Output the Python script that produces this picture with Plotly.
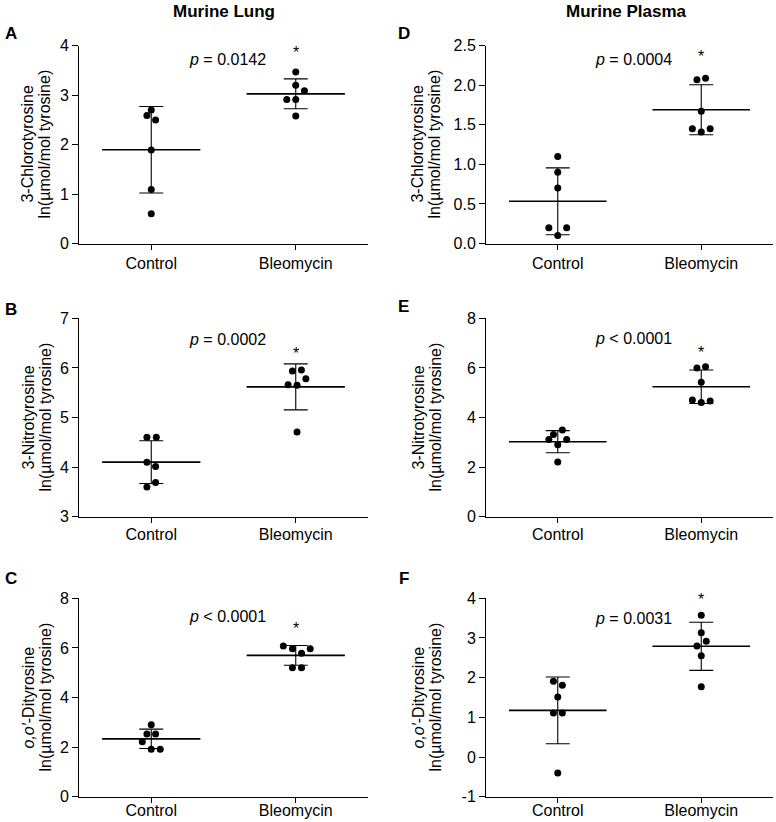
import numpy as np
import plotly.graph_objects as go

# ---------------- data ----------------
groups = ["Control", "Bleomycin"]
panel_letters = ["A", "D", "B", "E", "C", "F"]
column_titles = ["Murine Lung", "Murine Plasma"]

# values per panel: [control values], [bleomycin values]
A_control = [2.70, 2.59, 2.50, 1.89, 1.09, 0.60]
A_bleo = [3.47, 3.20, 3.09, 2.91, 2.91, 2.58]
D_control = [1.10, 0.90, 0.70, 0.20, 0.20, 0.10]
D_bleo = [2.07, 2.09, 1.67, 1.45, 1.45, 1.41]
B_control = [4.60, 4.60, 4.10, 4.01, 3.69, 3.60]
B_bleo = [5.94, 5.96, 5.78, 5.66, 5.65, 4.71]
E_control = [3.50, 3.31, 3.11, 3.11, 2.90, 2.21]
E_bleo = [6.00, 6.05, 5.42, 4.71, 4.60, 4.67]
C_control = [2.90, 2.53, 2.53, 2.22, 1.91, 1.91]
C_bleo = [6.08, 5.97, 5.97, 5.78, 5.20, 5.20]
F_control = [1.91, 1.81, 1.51, 1.11, 1.11, -0.40]
F_bleo = [3.57, 3.13, 2.92, 2.80, 2.55, 1.77]

# horizontal scatter spread of dots (category units)
A_jit_c = [0, -0.03, 0.03, 0, 0, 0]
A_jit_b = [0, 0, 0.06, -0.062, 0, 0]
D_jit_c = [0, 0, 0, -0.062, 0.062, 0]
D_jit_b = [-0.03, 0.03, 0, -0.062, 0.062, 0]
B_jit_c = [-0.03, 0.035, -0.03, 0.03, 0.03, -0.03]
B_jit_b = [-0.023, 0.039, 0.07, -0.053, 0.009, 0.009]
E_jit_c = [0.032, -0.03, -0.062, 0.062, 0, 0]
E_jit_b = [-0.03, 0.03, 0, -0.062, 0, 0.062]
C_jit_c = [0, -0.03, 0.03, -0.062, 0, 0.062]
C_jit_b = [-0.086, -0.023, 0.1, 0.04, -0.023, 0.04]
F_jit_c = [-0.03, 0.032, 0, -0.03, 0.032, 0]
F_jit_b = [0, 0, 0.035, -0.03, 0, 0]

p_texts = ["<i>p</i> = 0.0142", "<i>p</i> = 0.0004", "<i>p</i> = 0.0002",
           "<i>p</i> < 0.0001", "<i>p</i> < 0.0001", "<i>p</i> = 0.0031"]

y_names = ["3-Chlorotyrosine", "3-Chlorotyrosine", "3-Nitrotyrosine",
           "3-Nitrotyrosine", "<i>o,o′</i>-Dityrosine", "<i>o,o′</i>-Dityrosine"]
y_unit = "ln(µmol/mol tyrosine)"

y_ranges = [[0, 4], [0, 2.5], [3, 7], [0, 8], [0, 8], [-1, 4]]
y_tickvals = [[0, 1, 2, 3, 4],
              [0, 0.5, 1.0, 1.5, 2.0, 2.5],
              [3, 4, 5, 6, 7],
              [0, 2, 4, 6, 8],
              [0, 2, 4, 6, 8],
              [-1, 0, 1, 2, 3, 4]]
y_ticktext = [["0", "1", "2", "3", "4"],
              ["0.0", "0.5", "1.0", "1.5", "2.0", "2.5"],
              ["3", "4", "5", "6", "7"],
              ["0", "2", "4", "6", "8"],
              ["0", "2", "4", "6", "8"],
              ["-1", "0", "1", "2", "3", "4"]]

# y positions (data units) of p-value text and asterisk
p_y = [3.73, 2.33, 6.58, 7.17, 7.25, 3.50]
star_y = [3.86, 2.36, 6.30, 6.62, 6.80, 3.97]

panels = [
    (A_control, A_bleo, A_jit_c, A_jit_b),
    (D_control, D_bleo, D_jit_c, D_jit_b),
    (B_control, B_bleo, B_jit_c, B_jit_b),
    (E_control, E_bleo, E_jit_c, E_jit_b),
    (C_control, C_bleo, C_jit_c, C_jit_b),
    (F_control, F_bleo, F_jit_c, F_jit_b),
]

# ---------------- layout geometry ----------------
W, H = 776, 822
x_doms = [[79 / W, 368 / W], [486 / W, 773 / W]]
row_px = [(45.7, 243.5), (318.3, 516.7), (598.3, 796.7)]
y_doms = [[1 - b / H, 1 - t / H] for t, b in row_px]
x_label_shift = [0, -2, -6]   # per row: move category labels closer to axis

FONT = "Liberation Sans, Arial, sans-serif"
BLACK = "#000000"
FS = 16

fig = go.Figure()
layout = dict(
    width=W, height=H,
    margin=dict(l=0, r=0, t=0, b=0, autoexpand=False),
    paper_bgcolor="white", plot_bgcolor="white",
    showlegend=False,
    font=dict(family=FONT, size=FS, color=BLACK),
)
annotations = []

mean_half = 0.34
cap_px = 12

for i, (ctrl, bleo, jc, jb) in enumerate(panels):
    row, col = divmod(i, 2)
    n = i + 1
    xa = "x" if n == 1 else f"x{n}"
    ya = "y" if n == 1 else f"y{n}"
    xkey = "xaxis" if n == 1 else f"xaxis{n}"
    ykey = "yaxis" if n == 1 else f"yaxis{n}"

    for g, (vals, jit) in enumerate([(ctrl, jc), (bleo, jb)]):
        v = np.array(vals)
        m = v.mean()
        sd = v.std(ddof=1)
        # error bar (SD)
        fig.add_trace(go.Scatter(
            x=[g], y=[m], xaxis=xa, yaxis=ya, mode="markers",
            marker=dict(size=1, color="rgba(0,0,0,0)"),
            error_y=dict(type="data", array=[sd], visible=True,
                         color=BLACK, thickness=1.1, width=cap_px),
            hoverinfo="skip"))
        # mean line
        fig.add_trace(go.Scatter(
            x=[g - mean_half, g + mean_half], y=[m, m], xaxis=xa, yaxis=ya,
            mode="lines", line=dict(color=BLACK, width=1.6), hoverinfo="skip"))
        # dots
        fig.add_trace(go.Scatter(
            x=[g + j for j in jit], y=vals, xaxis=xa, yaxis=ya, mode="markers",
            marker=dict(size=7, color=BLACK), cliponaxis=False))

    layout[xkey] = dict(
        domain=x_doms[col], anchor=ya, range=[-0.5, 1.5], automargin=False,
        tickvals=[0, 1], ticktext=groups, ticks="outside", ticklen=5,
        ticklabelstandoff=x_label_shift[row],
        tickcolor=BLACK, showline=True, linecolor=BLACK, linewidth=1,
        showgrid=False, zeroline=False, tickfont=dict(size=FS, color=BLACK),
        fixedrange=True)
    layout[ykey] = dict(
        domain=y_doms[row], anchor=xa, range=y_ranges[i], automargin=False,
        tickvals=y_tickvals[i], ticktext=y_ticktext[i], ticks="outside",
        ticklen=6, tickcolor=BLACK, showline=True, linecolor=BLACK,
        linewidth=1, showgrid=False, zeroline=False,
        tickfont=dict(size=FS, color=BLACK), fixedrange=True)

    # p-value & asterisk
    annotations.append(dict(x=0.53, y=p_y[i], xref=xa, yref=ya, text=p_texts[i],
                            showarrow=False, font=dict(size=FS, color=BLACK),
                            xanchor="center", yanchor="middle"))
    annotations.append(dict(x=1, y=star_y[i], xref=xa, yref=ya, text="*",
                            showarrow=False, font=dict(size=FS, color=BLACK),
                            xanchor="center", yanchor="middle"))

    # y titles (two lines)
    yc = (y_doms[row][0] + y_doms[row][1]) / 2
    base_x = 28 if col == 0 else 418
    annotations.append(dict(x=base_x / W, y=yc, xref="paper", yref="paper",
                            text=y_names[i], textangle=-90, showarrow=False,
                            font=dict(size=FS, color=BLACK),
                            xanchor="center", yanchor="middle"))
    annotations.append(dict(x=(base_x + 17) / W, y=yc, xref="paper", yref="paper",
                            text=y_unit, textangle=-90, showarrow=False,
                            font=dict(size=FS, color=BLACK),
                            xanchor="center", yanchor="middle"))

# panel letters
letter_pos = [(3, 33), (396, 33), (3, 309), (396, 307), (3, 578), (397, 578)]
for L, (px, py) in zip(panel_letters, letter_pos):
    annotations.append(dict(x=px / W, y=1 - py / H, xref="paper", yref="paper",
                            text=f"<b>{L}</b>", showarrow=False,
                            font=dict(size=17, color=BLACK),
                            xanchor="left", yanchor="middle"))

# column titles
for t, cx in zip(column_titles, [224, 626]):
    annotations.append(dict(x=cx / W, y=1 - 12 / H, xref="paper", yref="paper",
                            text=f"<b>{t}</b>", showarrow=False,
                            font=dict(size=17, color=BLACK),
                            xanchor="center", yanchor="middle"))

layout["annotations"] = annotations
fig.update_layout(**layout)
fig.write_html(
    "out.html",
    config={"displayModeBar": False},
    post_script="document.body.style.margin='0';document.body.style.padding='0';"
                "document.body.style.overflow='hidden';",
)
